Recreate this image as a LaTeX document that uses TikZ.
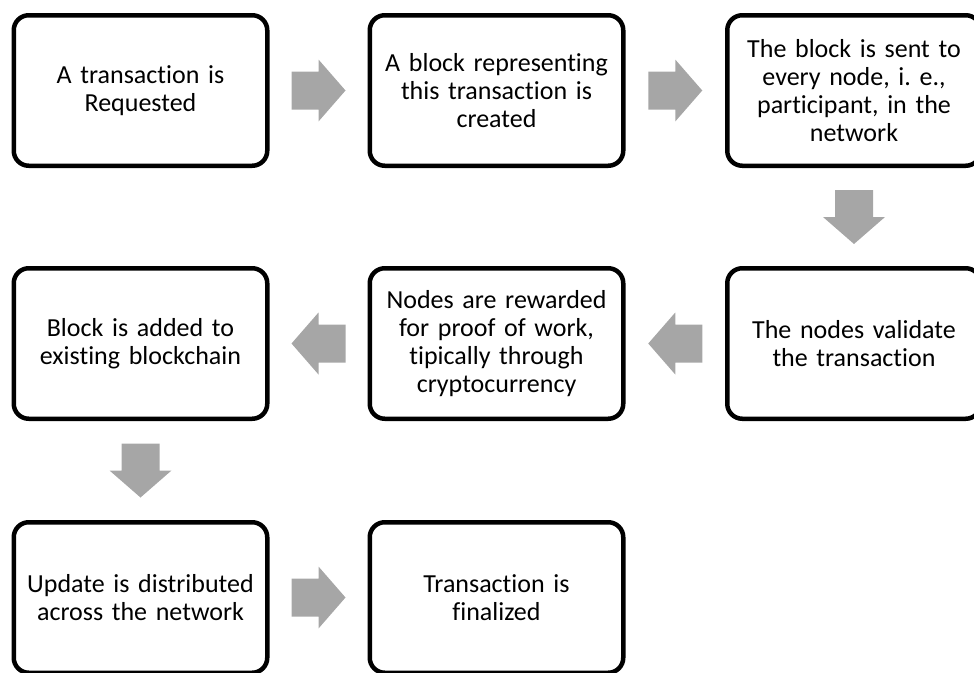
\documentclass[tikz,border=0pt]{standalone}
\usepackage{fontspec}
\setmainfont{Carlito}[RawFeature={-liga}]
\usetikzlibrary{calc}
\begin{document}
\frenchspacing
\begin{tikzpicture}[x=1pt,y=-1pt,
  stepbox/.style={draw=black, line width=4.5pt, rounded corners=15pt,
    fill=white, minimum width=253.5pt, minimum height=150.5pt,
    align=center, text width=244pt, inner sep=0pt,
    font=\fontsize{26}{28.2}\selectfont},
  flowarrow/.pic={
    \fill[arrowgray] (-27,-19) -- (0,-19) -- (0,-31) -- (27,0) -- (0,31)
      -- (0,19) -- (-27,19) -- cycle;
  }]
\definecolor{arrowgray}{HTML}{A6A6A6}
\useasboundingbox (0,0) rectangle (974,672);

% row 1
\node[stepbox] (req) at (140.5,90.5) {A transaction is\\Requested};
\node[stepbox] (create) at (496.5,90.5) {A block representing\\this transaction is\\created};
\node[stepbox] (send) at (854,90.5) {The block is sent to\\every node, i. e.,\\participant, in the\\network};
% row 2
\node[stepbox] (valid) at (854,343.5) {The nodes validate\\the transaction};
\node[stepbox] (reward) at (496.5,343.5) {Nodes are rewarded\\for proof of work,\\tipically through\\cryptocurrency};
\node[stepbox] (add) at (140.5,343.5) {Block is added to\\existing blockchain};
% row 3
\node[stepbox] (update) at (140.5,597.5) {Update is distributed\\across the network};
\node[stepbox] (final) at (496.5,597.5) {Transaction is\\finalized};

% block arrows between steps
\pic at ($(req.east)!0.5!(create.west)$) {flowarrow};
\pic at ($(create.east)!0.5!(send.west)$) {flowarrow};
\pic[rotate=-90] at ($(send.south)!0.5!(valid.north)$) {flowarrow};
\pic[rotate=180] at ($(valid.west)!0.5!(reward.east)$) {flowarrow};
\pic[rotate=180] at ($(reward.west)!0.5!(add.east)$) {flowarrow};
\pic[rotate=-90] at ($(add.south)!0.5!(update.north)$) {flowarrow};
\pic at ($(update.east)!0.5!(final.west)$) {flowarrow};
\end{tikzpicture}
\end{document}
